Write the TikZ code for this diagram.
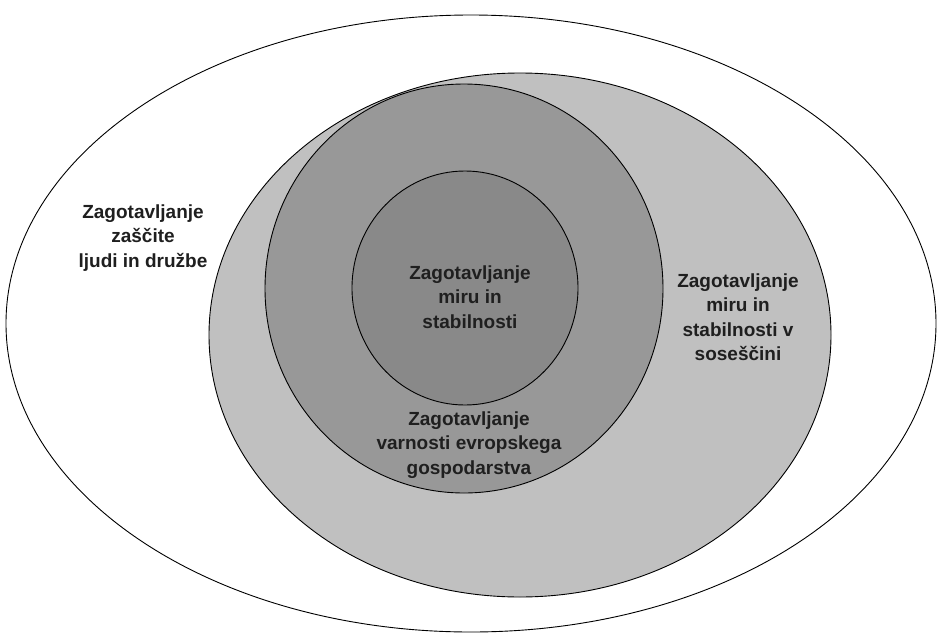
\documentclass[tikz,border=0pt]{standalone}
\usepackage{fontspec}
\setmainfont{Liberation Sans}
\begin{document}
\begin{tikzpicture}[x=1pt,y=-1pt,
  ring/.style={draw=black,line width=0.9pt},
  lbl/.style={font=\fontsize{19}{24.5}\selectfont\bfseries,text=black!88,align=center,inner sep=0pt}]
\useasboundingbox[fill=white] (0,0) rectangle (938,635);
\draw[ring,fill=white] (471,323.5) ellipse [x radius=465pt, y radius=308.5pt];
\draw[ring,fill={rgb,255:red,192;green,192;blue,192}] (520,335) ellipse [x radius=311pt, y radius=262pt];
\draw[ring,fill={rgb,255:red,152;green,152;blue,152}] (464,288.5) ellipse [x radius=199pt, y radius=204.5pt];
\draw[ring,fill={rgb,255:red,137;green,137;blue,137}] (465,288) ellipse [x radius=113pt, y radius=117pt];
\node[lbl] (outer) at (143,238) {Zagotavljanje\\zaščite\\ljudi in družbe};
\node[lbl] (inner) at (470,297) {Zagotavljanje\\miru in\\stabilnosti};
\node[lbl] (mid) at (469,445) {Zagotavljanje\\varnosti evropskega\\gospodarstva};
\node[lbl] (right) at (738,317) {Zagotavljanje\\miru in\\stabilnosti v\\soseščini};
\end{tikzpicture}
\end{document}
